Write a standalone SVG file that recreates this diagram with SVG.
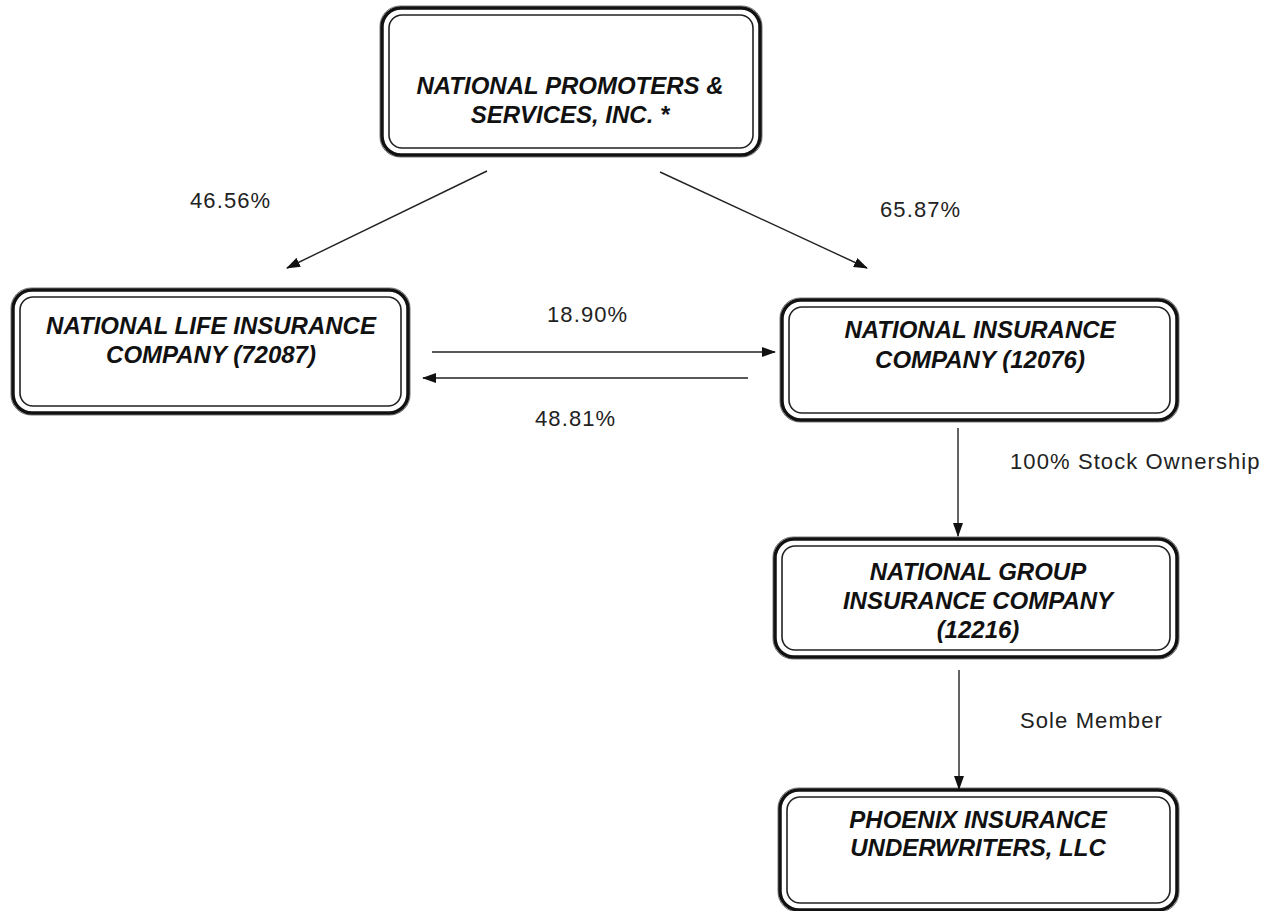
<svg xmlns="http://www.w3.org/2000/svg" width="1264" height="911" viewBox="0 0 1264 911">
<style>
.ob{fill:none;stroke:#111;stroke-width:3.5}
.og{fill:none;stroke:#777;stroke-width:1}
.ib{fill:none;stroke:#222;stroke-width:1.6}
.bt{font-family:"Liberation Sans",Arial,sans-serif;font-size:24px;font-style:italic;font-weight:bold;fill:#111;text-anchor:middle}
.lb{font-family:"Liberation Sans",Arial,sans-serif;font-size:22px;letter-spacing:1.1px;fill:#222}
.cn{fill:none;stroke:#222;stroke-width:1.4}
</style>
<defs>
<marker id="ah" markerWidth="14" markerHeight="10" refX="13" refY="5" orient="auto" markerUnits="userSpaceOnUse">
<path d="M0,0 L14,5 L0,10 Z" fill="#111"/>
</marker>
</defs>
<rect width="1264" height="911" fill="#fff"/>

<g id="n-promoters">
<rect class="og" x="380" y="6" width="382" height="151" rx="20"/>
<rect class="ob" x="382" y="8" width="378" height="147" rx="19"/>
<rect class="ib" x="389" y="15" width="364" height="133" rx="13"/>
<text class="bt" x="570" y="94">NATIONAL PROMOTERS &amp;</text>
<text class="bt" x="570" y="123">SERVICES, INC. *</text>
</g>

<g id="n-life">
<rect class="og" x="11" y="288" width="399" height="127" rx="20"/>
<rect class="ob" x="13" y="290" width="395" height="123" rx="19"/>
<rect class="ib" x="20" y="297" width="381" height="109" rx="13"/>
<text class="bt" x="211" y="334">NATIONAL LIFE INSURANCE</text>
<text class="bt" x="211" y="363">COMPANY (72087)</text>
</g>

<g id="n-national">
<rect class="og" x="780" y="298" width="399" height="124" rx="20"/>
<rect class="ob" x="782" y="300" width="395" height="120" rx="19"/>
<rect class="ib" x="789" y="307" width="381" height="106" rx="13"/>
<text class="bt" x="980" y="338">NATIONAL INSURANCE</text>
<text class="bt" x="980" y="368">COMPANY (12076)</text>
</g>

<g id="n-group">
<rect class="og" x="773" y="537" width="406" height="122" rx="20"/>
<rect class="ob" x="775" y="539" width="402" height="118" rx="19"/>
<rect class="ib" x="782" y="546" width="388" height="104" rx="13"/>
<text class="bt" x="978" y="580">NATIONAL GROUP</text>
<text class="bt" x="978" y="609">INSURANCE COMPANY</text>
<text class="bt" x="978" y="638">(12216)</text>
</g>

<g id="n-phoenix">
<rect class="og" x="778" y="788" width="401" height="124" rx="20"/>
<rect class="ob" x="780" y="790" width="397" height="120" rx="19"/>
<rect class="ib" x="787" y="797" width="383" height="106" rx="13"/>
<text class="bt" x="978" y="828">PHOENIX INSURANCE</text>
<text class="bt" x="978" y="856">UNDERWRITERS, LLC</text>
</g>

<g id="connectors">
<line class="cn" x1="487" y1="171" x2="287" y2="268" marker-end="url(#ah)"/>
<line class="cn" x1="660" y1="172" x2="867" y2="268" marker-end="url(#ah)"/>
<line class="cn" x1="432" y1="352" x2="775" y2="352" marker-end="url(#ah)"/>
<line class="cn" x1="748" y1="378" x2="423" y2="378" marker-end="url(#ah)"/>
<line class="cn" x1="958" y1="428" x2="958" y2="536" marker-end="url(#ah)"/>
<line class="cn" x1="959" y1="670" x2="959" y2="789" marker-end="url(#ah)"/>
</g>

<g id="labels">
<text class="lb" x="190" y="208">46.56%</text>
<text class="lb" x="880" y="217">65.87%</text>
<text class="lb" x="547" y="322">18.90%</text>
<text class="lb" x="535" y="426">48.81%</text>
<text class="lb" x="1010" y="469">100% Stock Ownership</text>
<text class="lb" x="1020" y="728">Sole Member</text>
</g>
</svg>
